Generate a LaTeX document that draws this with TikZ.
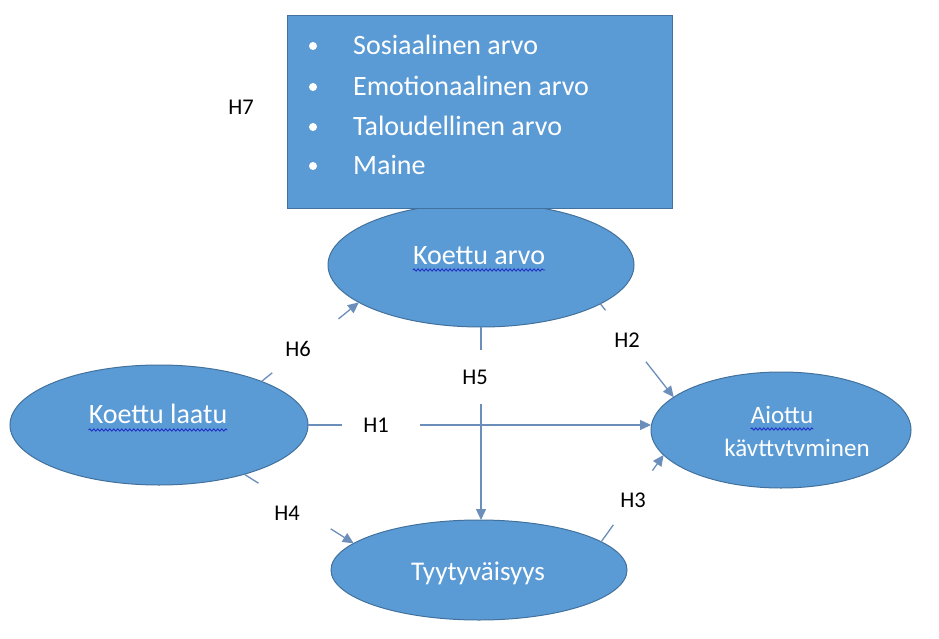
\documentclass[tikz,border=0pt]{standalone}
\usepackage{fontspec}
\setmainfont{Carlito}
\usetikzlibrary{arrows.meta,calc,shapes.geometric,decorations.pathmorphing}
\definecolor{shapefill}{HTML}{5B9BD5}
\definecolor{shapeline}{HTML}{41719C}
\definecolor{linkcol}{HTML}{6C8EBA}
\definecolor{wavecol}{HTML}{1F2FC8}
\tikzset{
  concept/.style={ellipse, draw=shapeline, line width=1pt, fill=shapefill,
                  inner sep=0pt, outer sep=0pt},
  conceptlabel/.style={text=white, inner sep=0pt, anchor=base,
                       font=\fontsize{28}{32}\selectfont},
  bulletlabel/.style={text=white, inner sep=0pt, anchor=base west,
                      font=\fontsize{28}{32}\selectfont},
  bulletdot/.style={circle, fill=white, inner sep=0pt, minimum size=8pt},
  hlabel/.style={text=black, inner sep=0pt, font=\fontsize{22.5}{26}\selectfont},
  link/.style={draw=linkcol, line width=1.3pt},
  linkarrow/.style={link, -{Triangle[length=11pt,width=10pt]}},
  spellwave/.style={draw=wavecol, line width=0.9pt, decorate,
                    decoration={snake, amplitude=1.1pt, segment length=4pt}}
}
\begin{document}
\begin{tikzpicture}[x=1pt,y=-1pt]
\useasboundingbox (0,0) rectangle (939,639);

% concepts
\node[concept, minimum width=298pt, minimum height=120pt] (laatu) at (159,425) {};
\node[concept, minimum width=306pt, minimum height=124pt] (arvo) at (481,265) {};
\node[concept, minimum width=260pt, minimum height=116pt] (aiottu) at (781,430) {};
\node[concept, minimum width=296pt, minimum height=100pt] (tyyt) at (479,570) {};

% value dimensions box
\node[draw=shapeline, line width=1pt, fill=shapefill, inner sep=0pt,
      minimum width=385pt, minimum height=192pt] (ulottuvuudet) at (479.5,112) {};
\foreach \i/\t/\y in {1/Sosiaalinen arvo/46, 2/Emotionaalinen arvo/87,
                      3/Taloudellinen arvo/127, 4/Maine/166} {
  \node[bulletdot] (dot\i) at (313,\y) {};
  \node[bulletlabel] (item\i) at (353,\y+9) {\t};
}

% concept texts
\node[conceptlabel] (arvotxt) at (479,264) {Koettu arvo};
\node[conceptlabel] (laatutxt) at (158,423) {Koettu laatu};
\node[conceptlabel, font=\fontsize{27}{30}\selectfont] (tyyttxt) at (478,580) {Tyytyväisyys};
\node[conceptlabel, font=\fontsize{25}{30}\selectfont] (aiottutxt) at (782,423) {Aiottu};
\node[conceptlabel, font=\fontsize{25}{30}\selectfont] (kaytttxt) at (797,456) {kävttvtvminen};

% spell-check underlines
\draw[spellwave] ($(arvotxt.base west)+(0,6)$) -- ($(arvotxt.base east)+(0,6)$);
\draw[spellwave] ($(laatutxt.base west)+(0,7)$) -- ($(laatutxt.base east)+(0,7)$);
\draw[spellwave] ($(aiottutxt.base west)+(0,6)$) -- ($(aiottutxt.base east)+(0,6)$);

% hypothesis labels
\node[hlabel] (h7) at (241,107) {H7};
\node[hlabel] (h6) at (298,349) {H6};
\node[hlabel] (h2) at (627,340) {H2};
\node[hlabel] (h5) at (475,377) {H5};
\node[hlabel] (h1) at (376,425) {H1};
\node[hlabel] (h4) at (287,513) {H4};
\node[hlabel] (h3) at (633,500) {H3};

% connector end points on the ellipses
\coordinate (h6a) at (laatu.23);
\coordinate (h6b) at (arvo.197);
\coordinate (h2a) at (arvo.-18.6);
\coordinate (h2b) at (aiottu.163.9);
\coordinate (h1a) at (laatu.east);
\coordinate (h1b) at (laatu.east -| aiottu.west);
\coordinate (h5a) at (arvo.south);
\coordinate (h5b) at (arvo.south |- tyyt.north);
\coordinate (h4a) at (laatu.-30);
\coordinate (h4b) at (tyyt.168.2);
\coordinate (h3a) at (tyyt.13.6);
\coordinate (h3b) at (aiottu.192.4);

% connectors, broken where the labels sit
\draw[link] (h6a) -- ($(h6a)!0.11!(h6b)$);
\draw[linkarrow] ($(h6a)!0.79!(h6b)$) -- (h6b);
\draw[link] (h2a) -- ($(h2a)!0.07!(h2b)$);
\draw[linkarrow] ($(h2a)!0.62!(h2b)$) -- (h2b);
\draw[link] (h1a) -- ($(h1a)!0.10!(h1b)$);
\draw[linkarrow] ($(h1a)!0.327!(h1b)$) -- (h1b);
\draw[link] (h5a) -- ($(h5a)!0.12!(h5b)$);
\draw[linkarrow] ($(h5a)!0.40!(h5b)$) -- (h5b);
\draw[link] (h4a) -- ($(h4a)!0.13!(h4b)$);
\draw[linkarrow] ($(h4a)!0.79!(h4b)$) -- (h4b);
\draw[link] (h3a) -- ($(h3a)!0.195!(h3b)$);
\draw[linkarrow] ($(h3a)!0.82!(h3b)$) -- (h3b);
\end{tikzpicture}
\end{document}
